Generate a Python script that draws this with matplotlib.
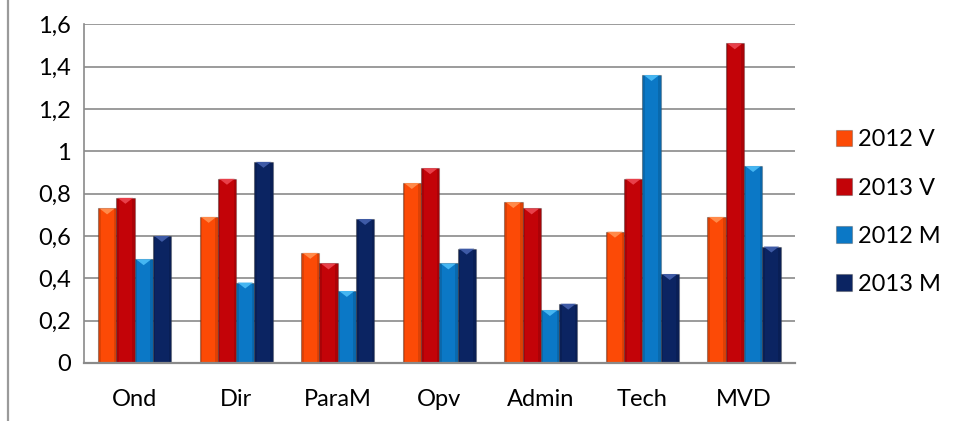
import numpy as np
import matplotlib.pyplot as plt
from matplotlib.patches import Polygon, Rectangle
from matplotlib.lines import Line2D
from matplotlib.ticker import FuncFormatter

plt.rcParams['font.family'] = ['Lato', 'DejaVu Sans']

# Ratio per department, men/women for 2012 and 2013
categories = ['Ond', 'Dir', 'ParaM', 'Opv', 'Admin', 'Tech', 'MVD']
v_2012 = [0.73, 0.69, 0.52, 0.85, 0.76, 0.62, 0.69]
v_2013 = [0.78, 0.87, 0.47, 0.92, 0.73, 0.87, 1.51]
m_2012 = [0.49, 0.38, 0.34, 0.47, 0.25, 1.36, 0.93]
m_2013 = [0.60, 0.95, 0.68, 0.54, 0.28, 0.42, 0.55]

series = [
    ('2012 V', v_2012, '#fc4a06', '#ff8a4a'),
    ('2013 V', v_2013, '#c30308', '#e8404a'),
    ('2012 M', m_2012, '#0b78c6', '#45b6f2'),
    ('2013 M', m_2013, '#0b2462', '#3e5aa6'),
]

fig = plt.figure(figsize=(9.56, 4.21), dpi=100)
ax = fig.add_axes([0.0876, 0.1378, 0.7437, 0.8045])

x = np.arange(len(categories))
width = 0.18
offsets = (np.arange(4) - 1.5) * width
cap = 0.028  # depth of the bevel chevron on top of each bar

handles = []
for (label, vals, col, light), off in zip(series, offsets):
    bars = ax.bar(x + off, vals, width, color=col, label=label,
                  edgecolor=(0.25, 0.25, 0.25, 0.35), linewidth=0.8, zorder=3)
    handles.append(bars)
    for b in bars:
        bx, bw, bh = b.get_x(), b.get_width(), b.get_height()
        # darker shading along both sides of the bar
        for sx in (bx, bx + bw * 0.86):
            ax.add_patch(Rectangle((sx, 0), bw * 0.14, bh, color='black',
                                   alpha=0.12, lw=0, zorder=4))
        # lighter chevron at the top
        ax.add_patch(Polygon([(bx + bw * 0.08, bh), (bx + bw * 0.92, bh),
                              (bx + bw / 2, bh - cap)],
                             closed=True, color=light, lw=0, zorder=5))

ax.set_xlim(-0.5, len(categories) - 0.5)
ax.set_ylim(0, 1.6)
ax.set_yticks(np.arange(0, 1.61, 0.2))
ax.yaxis.set_major_formatter(FuncFormatter(
    lambda v, _: ('%g' % round(v, 1)).replace('.', ',')))
ax.set_xticks(x)
ax.set_xticklabels(categories)
ax.tick_params(axis='both', length=0, labelsize=17, colors='black')
ax.tick_params(axis='x', pad=19)
ax.tick_params(axis='y', pad=9)

ax.grid(axis='y', color='#8a8a8a', linewidth=1.2, zorder=0)
for side in ('top', 'right'):
    ax.spines[side].set_visible(False)
ax.spines['left'].set_color('#8a8a8a')
ax.spines['left'].set_linewidth(1.2)
ax.spines['bottom'].set_color('#8a8a8a')
ax.spines['bottom'].set_linewidth(1.6)
ax.spines['bottom'].set_zorder(6)

leg = ax.legend(handles=handles, loc='center left',
                bbox_to_anchor=(0.874, 0.496), bbox_transform=fig.transFigure,
                frameon=False, fontsize=17, handlelength=0.7,
                handleheight=0.7, handletextpad=0.25, labelspacing=1.15,
                borderaxespad=0, borderpad=0)

# thin border line on the left of the chart area
fig.add_artist(Line2D([8 / 956, 8 / 956], [0, 1], transform=fig.transFigure,
                      color='#9a9a9a', linewidth=1.6))

fig.savefig('out.png', dpi=100)
